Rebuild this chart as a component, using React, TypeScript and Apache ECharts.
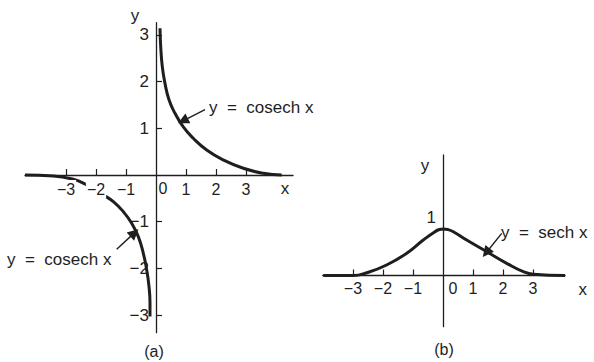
import React, { useEffect, useRef } from "react";
import * as echarts from "echarts";

// tick positions and labels
const xTickValues = [-3, -2, -1, 1, 2, 3];
const xLabelValues = [-3, -2, -1, 0, 1, 2, 3];
const aYTickValues = [-3, -2, -1, 1, 2, 3];
const bYLabelValues = [1];

// curves
const cosechUpper: [number, number][] = [
  [0.133, 3.14], [0.157, 2.75], [0.21, 2.32], [0.3, 1.96], [0.433, 1.61],
  [0.633, 1.32], [0.91, 1.03], [1.243, 0.786], [1.69, 0.535], [2.243, 0.321],
  [2.91, 0.143], [3.577, 0.036], [4.19, 0],
];
const cosechLower: [number, number][] = [
  [-4.367, 0], [-3.42, -0.02], [-2.757, -0.092], [-2.367, -0.193], [-1.757, -0.428],
  [-1.423, -0.571], [-1.09, -0.786], [-0.81, -1.034], [-0.59, -1.32], [-0.423, -1.677],
  [-0.31, -2.034], [-0.233, -2.39], [-0.2, -2.75], [-0.2, -3.03],
];
const sechCurve: [number, number][] = [
  [-3.99, 0], [-2.99, 0], [-2.54, 0.06], [-1.88, 0.226], [-1.21, 0.477],
  [-0.657, 0.763], [-0.267, 0.942], [-0.12, 0.988], [0.01, 1.0], [0.16, 0.988],
  [0.343, 0.942], [0.79, 0.763], [1.457, 0.512], [2.123, 0.262], [2.677, 0.082],
  [3.01, 0.026], [4.07, 0],
];

// annotation arrows: [tail, tip]
const arrowA1: [number, number][] = [[1.633, 1.4], [0.9, 1.16]];
const arrowA2: [number, number][] = [[-1.31, -1.59], [-0.72, -1.24]];
const arrowB: [number, number][] = [[1.957, 0.907], [1.44, 0.49]];

const FONT = "Liberation Sans, Arial, Helvetica, sans-serif";
const INK = "#1e1e1e";

const fmt = (v: number) =>
  v === 0 ? "{z|0}" : "{n|" + (v < 0 ? "\u2212" + Math.abs(v) : String(v)) + "}";

export default function App() {
  const ref = useRef<HTMLDivElement>(null);
  useEffect(() => {
    if (!ref.current) return;
    const chart = echarts.init(ref.current, undefined, { renderer: "svg" });
    const axisLine = { show: true, onZero: false, lineStyle: { color: INK, width: 1.3 } };
    const lbl = { fontSize: 16, fontFamily: FONT, color: INK };
    const arrow = (pts: [number, number][]) => ({
      silent: true,
      symbol: ["none", "triangle"],
      symbolSize: 11,
      label: { show: false },
      itemStyle: { color: INK },
      lineStyle: { type: "solid", color: INK, width: 1.4 },
      emphasis: { disabled: true },
      data: [[{ coord: pts[0] }, { coord: pts[1] }]],
      z: 10,
    });
    const lineSeries = (data: [number, number][], idx: number, mark?: any) => ({
      type: "line",
      xAxisIndex: idx,
      yAxisIndex: idx,
      data,
      smooth: 0.5,
      showSymbol: false,
      lineStyle: { color: INK, width: 3 },
      itemStyle: { color: INK },
      z: 2,
      ...(mark ? { markLine: mark } : {}),
    });
    chart.setOption({
      animation: false,
      backgroundColor: "#fff",
      grid: [
        { left: 25, top: 22.7, width: 268, height: 310 },
        { left: 322.7, top: 155, width: 242.3, height: 171.7 },
      ],
      xAxis: [
        {
          type: "value", gridIndex: 0, min: -4.367, max: 4.567, z: 5,
          position: "bottom", offset: -157.7,
          axisLine,
          splitLine: { show: false },
          axisTick: { show: true, inside: true, length: 6, customValues: xTickValues, lineStyle: { color: INK, width: 1.2 } },
          axisLabel: {
            customValues: xLabelValues, margin: 5, formatter: fmt,
            rich: {
              n: { ...lbl, backgroundColor: "#fff", padding: [1, 1, 1, 1] },
              z: { ...lbl, padding: [0, 0, 0, 14] },
            },
          },
        },
        {
          type: "value", gridIndex: 1, min: -4.01, max: 4.067,
          position: "bottom", offset: -51.2,
          axisLine,
          splitLine: { show: false },
          axisTick: { show: true, inside: true, length: 6, customValues: xTickValues, lineStyle: { color: INK, width: 1.2 } },
          axisLabel: {
            customValues: xLabelValues, margin: 5, formatter: fmt,
            rich: { n: { ...lbl }, z: { ...lbl, padding: [0, 0, 0, 20] } },
          },
        },
      ],
      yAxis: [
        {
          type: "value", gridIndex: 0, min: -3.377, max: 3.26,
          position: "left", offset: -131,
          axisLine,
          splitLine: { show: false },
          axisTick: { show: true, inside: true, length: 6, customValues: aYTickValues, lineStyle: { color: INK, width: 1.2 } },
          axisLabel: {
            customValues: aYTickValues, margin: 7, formatter: fmt,
            rich: { n: { ...lbl, fontSize: 17 }, z: { ...lbl } },
          },
        },
        {
          type: "value", gridIndex: 1, min: -1.101, max: 2.591,
          position: "left", offset: -120.3,
          axisLine,
          splitLine: { show: false },
          axisTick: { show: false },
          axisLabel: {
            customValues: bYLabelValues, margin: 7, formatter: fmt,
            verticalAlign: "bottom",
            rich: { n: { ...lbl, fontSize: 17, padding: [0, 0, 3, 0] }, z: { ...lbl } },
          },
        },
      ],
      series: [
        lineSeries(cosechUpper, 0, arrow(arrowA1)),
        lineSeries(cosechLower, 0, arrow(arrowA2)),
        lineSeries(sechCurve, 1, arrow(arrowB)),
      ],
      graphic: [
        { type: "text", x: 135, y: 15, style: { text: "y", font: `17px ${FONT}`, fill: INK, align: "center", verticalAlign: "middle" } },
        { type: "text", x: 285, y: 188, style: { text: "x", font: `17px ${FONT}`, fill: INK, align: "center", verticalAlign: "middle" } },
        { type: "text", x: 425, y: 165, style: { text: "y", font: `17px ${FONT}`, fill: INK, align: "center", verticalAlign: "middle" } },
        { type: "text", x: 582.7, y: 289, style: { text: "x", font: `17px ${FONT}`, fill: INK, align: "center", verticalAlign: "middle" } },
        { type: "text", x: 154, y: 351, style: { text: "(a)", font: `16px ${FONT}`, fill: INK, align: "center", verticalAlign: "middle" } },
        { type: "text", x: 444, y: 349, style: { text: "(b)", font: `16px ${FONT}`, fill: INK, align: "center", verticalAlign: "middle" } },
        { type: "text", x: 209, y: 107, style: { text: "y\u00a0\u00a0=\u00a0\u00a0cosech x", font: `17px ${FONT}`, fill: INK, align: "left", verticalAlign: "middle" } },
        { type: "text", x: 7, y: 259, style: { text: "y\u00a0\u00a0=\u00a0\u00a0cosech x", font: `17px ${FONT}`, fill: INK, align: "left", verticalAlign: "middle" } },
        { type: "text", x: 501, y: 232, style: { text: "y\u00a0\u00a0=\u00a0\u00a0sech x", font: `17px ${FONT}`, fill: INK, align: "left", verticalAlign: "middle" } },
      ],
    });
    return () => chart.dispose();
  }, []);
  return (
    <div
      ref={ref}
      style={{ position: "absolute", left: 0, top: 0, width: 594, height: 362, background: "#fff" }}
    />
  );
}
